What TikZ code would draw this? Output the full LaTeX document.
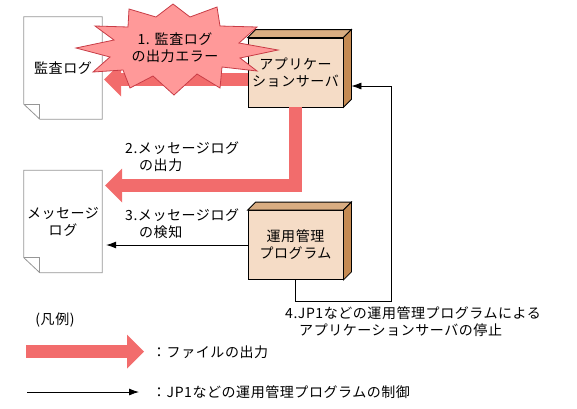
\documentclass[tikz,border=0pt]{standalone}
\usepackage{fontspec}
\setmainfont{Noto Sans CJK JP}[LetterSpace=4]
\usepackage{tikz}
\usetikzlibrary{arrows.meta, calc, positioning}
\definecolor{filered}{RGB}{242, 108, 108}
\definecolor{burstfill}{RGB}{255, 153, 153}
\definecolor{burstline}{RGB}{200, 60, 70}
\definecolor{boxfront}{RGB}{245, 220, 198}
\definecolor{boxtopc}{RGB}{217, 173, 130}
\definecolor{boxsidec}{RGB}{197, 138, 82}
\definecolor{docgray}{RGB}{150, 150, 150}
\tikzset{
    docnode/.style = {draw=none, fill=white, rectangle, minimum width=78pt, minimum height=102pt,
      inner sep = 0em, node distance=0em, align=center},
    docline/.style = {draw=docgray, line width=0.8pt},
    boxnode/.style = {draw, rectangle, fill=boxfront, minimum width=95pt, minimum height=69pt,
      inner sep = 0em, node distance=0em, line width=0.8pt, align=center},
    boxtop/.style = {draw, fill=boxtopc, line width=0.8pt},
    boxside/.style = {draw, fill=boxsidec, line width=0.8pt},
    textnode/.style  = {draw=none, fill=none, rectangle, minimum size=0cm, inner sep = 0em,
      node distance=0em, align=center},
    burst/.style = {draw=burstline, fill=burstfill, line width=0.8pt},
    fileout/.style = {draw=filered, line width=13pt, line join=miter,
      -{Triangle[width=34pt, length=17pt, line width=0pt]}},
    connect/.style = {black, line width=0.8pt, -{Latex[length=10pt, width=7pt]}}
}

\begin{document}
\begin{tikzpicture}[x=1pt, y=-1pt, font=\fontsize{14pt}{17pt}\selectfont]
    \useasboundingbox (0,0) rectangle (577,408);

    % logs
    \node [name=AuditLog, docnode] at (63,68) {監査ログ};
    \node [name=MsgLog, docnode, below of = AuditLog, yshift=-153.5pt] {メッセージ\\ログ};
    \foreach \d in {AuditLog, MsgLog} {
        \draw [docline] (\d.north west) -- (\d.north east) -- (\d.south east)
            -- ([xshift=16pt]\d.south west) -- ([yshift=15pt]\d.south west) -- cycle;
        \draw [docline] ([yshift=15pt]\d.south west) -- ([xshift=16pt, yshift=15pt]\d.south west)
            -- ([xshift=16pt]\d.south west);
    }

    % servers
    \node [name=AppServer, boxnode] at (295.5,72.5) {アプリケー\\ションサーバ};
    \node [name=ProgMgr, boxnode, below of = AppServer, yshift=-172.5pt] {運用管理\\プログラム};
    \foreach \b in {AppServer, ProgMgr} {
        \draw [boxtop] (\b.north west) -- ([xshift=8pt, yshift=8pt]\b.north west)
            -- ([xshift=8pt, yshift=8pt]\b.north east) -- (\b.north east) -- cycle;
        \draw [boxside] (\b.north east) -- ([xshift=8pt, yshift=8pt]\b.north east)
            -- ([xshift=8pt, yshift=8pt]\b.south east) -- (\b.south east) -- cycle;
    }

    % file output
    \draw [fileout, shorten >=2pt] ([yshift=-7pt]AppServer.west) -- ([yshift=-7pt]AppServer.west -| AuditLog.east);
    \draw [fileout, shorten >=3pt] ([xshift=-0.5pt]AppServer.south) |- ([yshift=36pt]MsgLog.east);

    % control
    \draw [connect, shorten >=4pt] (ProgMgr.west) -- (ProgMgr.west -| MsgLog.east);
    \coordinate (StopCorner) at (391,301);
    \draw [connect] ([xshift=-0.5pt]ProgMgr.south) |- (StopCorner)
        |- ([xshift=8pt, yshift=-13.5pt]AppServer.east);

    % error burst
    \draw [burst] (173,4) -- (190,17) -- (217,7) -- (220,26) -- (257,27) -- (239,43)
        -- (278,50) -- (240,58) -- (257,71) -- (222,67) -- (220,88) -- (197,74)
        -- (174,95) -- (153,76) -- (130,88) -- (123,70) -- (93,72) -- (110,57)
        -- (76,48) -- (114,40) -- (95,26) -- (128,27) -- (129,9) -- (156,17) -- cycle;
    \node [name=ErrLabel, textnode] at (175,48) {1. 監査ログ\\の出力エラー};

    \node [name=OutLabel, textnode, anchor=west, align=left] at (125,156.5) {2.メッセージログ\\\hspace*{1em}の出力};
    \node [name=DetectLabel, textnode, anchor=west, align=left] at (125,224) {3.メッセージログ\\\hspace*{1em}の検知};
    \node [name=StopLabel, textnode, anchor=west, align=left] at (285,321.5)
        {4.JP1などの運用管理プログラムによる\\\hspace*{1em}アプリケーションサーバの停止};

    % legend
    \node [name=Legend, textnode] at (55,320) {(凡例)};
    \coordinate (FileFrom) at (26,351.5);
    \coordinate (FileTo) at (144,351.5);
    \draw [fileout] (FileFrom) -- (FileTo);
    \node [name=FileText, textnode, anchor=west] at (152,352) {：ファイルの出力};
    \coordinate (CtrlFrom) at (27,392);
    \coordinate (CtrlTo) at (139,392);
    \draw [connect] (CtrlFrom) -- (CtrlTo);
    \node [name=CtrlText, textnode, anchor=west] at (152,392) {：JP1などの運用管理プログラムの制御};
\end{tikzpicture}
\end{document}
